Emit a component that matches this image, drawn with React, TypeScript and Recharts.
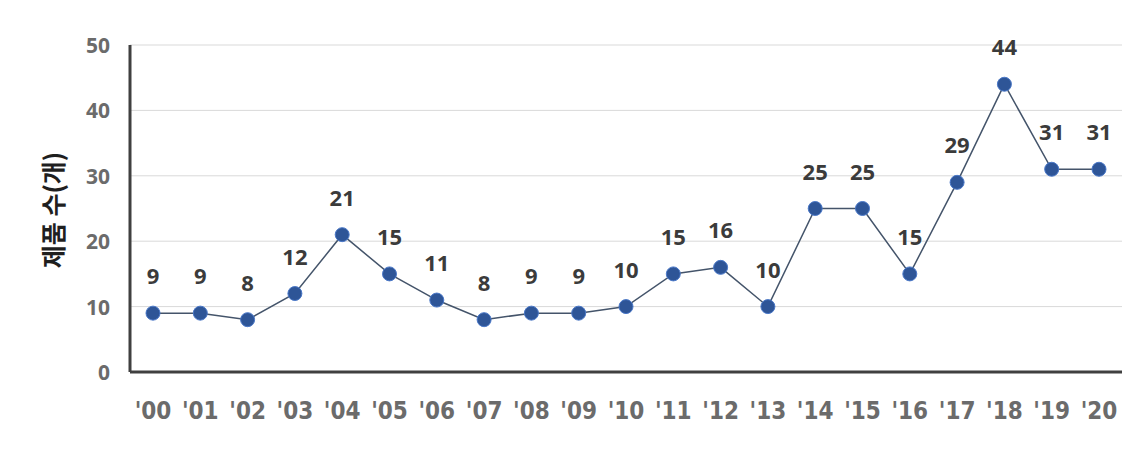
import { LineChart, Line, XAxis, YAxis, CartesianGrid, LabelList, ReferenceLine } from "recharts";

if (typeof document !== "undefined") document.body.style.margin = "0";

const years = ["'00", "'01", "'02", "'03", "'04", "'05", "'06", "'07", "'08", "'09", "'10", "'11", "'12", "'13", "'14", "'15", "'16", "'17", "'18", "'19", "'20"];
const products = [9, 9, 8, 12, 21, 15, 11, 8, 9, 9, 10, 15, 16, 10, 25, 25, 15, 29, 44, 31, 31];
const yTicks = [0, 10, 20, 30, 40, 50];

const data = years.map((year, i) => ({ year, count: products[i] }));

const XTick = ({ x, y, payload }: any) => (
  <text
    x={x}
    y={y + 31}
    textAnchor="middle"
    dominantBaseline="central"
    fill="#6b6b6b"
    fontSize={24}
    fontWeight={700}
    fontFamily="'DejaVu Sans Condensed', sans-serif"
  >
    {payload.value}
  </text>
);

const YTick = ({ x, y, payload }: any) => (
  <text
    x={x - 12}
    y={y}
    textAnchor="end"
    dominantBaseline="central"
    fill="#6b6b6b"
    fontSize={21}
    fontWeight={700}
    fontFamily="'Open Sans', sans-serif"
  >
    {payload.value}
  </text>
);

const ValueLabel = ({ x, y, value }: any) => (
  <text
    x={x}
    y={y - 38}
    textAnchor="middle"
    dominantBaseline="central"
    fill="#3b3b3b"
    fontSize={22}
    fontWeight={700}
    fontFamily="'Open Sans', sans-serif"
  >
    {value}
  </text>
);

const App = () => (
  <div style={{ position: "relative", width: 1145, height: 454, background: "#fff" }}>
    <LineChart width={1145} height={454} data={data} margin={{ top: 45, right: 23, bottom: 42, left: 70 }}>
      <CartesianGrid stroke="#d9d9d9" strokeWidth={1} vertical={false} />
      <XAxis
        dataKey="year"
        tick={<XTick />}
        tickLine={false}
        axisLine={{ stroke: "#404040", strokeWidth: 3 }}
        height={40}
        interval={0}
        padding={{ left: 23, right: 23 }}
      />
      <YAxis
        domain={[0, 50]}
        ticks={yTicks}
        tick={<YTick />}
        tickLine={false}
        axisLine={{ stroke: "#404040", strokeWidth: 3 }}
        width={60}
      />
      <Line
        type="linear"
        dataKey="count"
        stroke="#44546a"
        strokeWidth={1.5}
        dot={{ r: 7, fill: "#2e5597", stroke: "#4a78c8", strokeWidth: 1 }}
        isAnimationActive={false}
      >
        <LabelList dataKey="count" content={<ValueLabel />} />
      </Line>
    </LineChart>
    <div
      style={{
        position: "absolute",
        left: 52,
        top: 210,
        transform: "translate(-50%, -50%) rotate(-90deg)",
        whiteSpace: "nowrap",
        fontSize: 25,
        fontWeight: 700,
        color: "#1f1f1f",
        fontFamily: "'Noto Sans CJK KR', sans-serif",
      }}
    >
      제품 수(개)
    </div>
  </div>
);

export default App;
